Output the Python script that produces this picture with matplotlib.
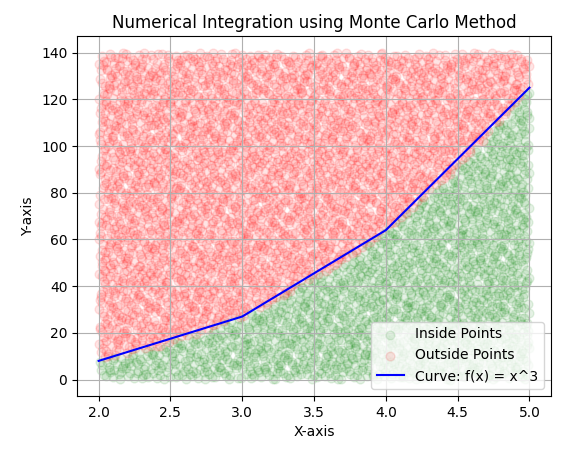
import matplotlib.pyplot as plt
import numpy as np

# curve drawn through integer x values
curve_x = [2, 3, 4, 5]
curve_y = [8, 27, 64, 125]

x_min, x_max = 2.0, 5.0
y_min, y_max = 0.0, 140.0
n_points = 5000


def halton(n, base):
    # deterministic low-discrepancy sample in [0, 1)
    seq = np.zeros(n)
    for i in range(n):
        f, r, k = 1.0, 0.0, i + 1
        while k > 0:
            f /= base
            r += f * (k % base)
            k //= base
        seq[i] = r
    return seq


px = x_min + (x_max - x_min) * halton(n_points, 2)
py = y_min + (y_max - y_min) * halton(n_points, 3)
inside = py <= px ** 3

fig, ax = plt.subplots(figsize=(5.71, 4.55), dpi=100)
ax.scatter(px[inside], py[inside], color="green", alpha=0.1, s=40, label="Inside Points")
ax.scatter(px[~inside], py[~inside], color="red", alpha=0.1, s=40, label="Outside Points")
ax.plot(curve_x, curve_y, color="blue", label="Curve: f(x) = x^3")

ax.set_title("Numerical Integration using Monte Carlo Method")
ax.set_xlabel("X-axis")
ax.set_ylabel("Y-axis")
ax.grid(True)
ax.legend(loc="lower right")

fig.subplots_adjust(left=0.135, right=0.965, bottom=0.13, top=0.92)
fig.savefig("out.png", dpi=100)
